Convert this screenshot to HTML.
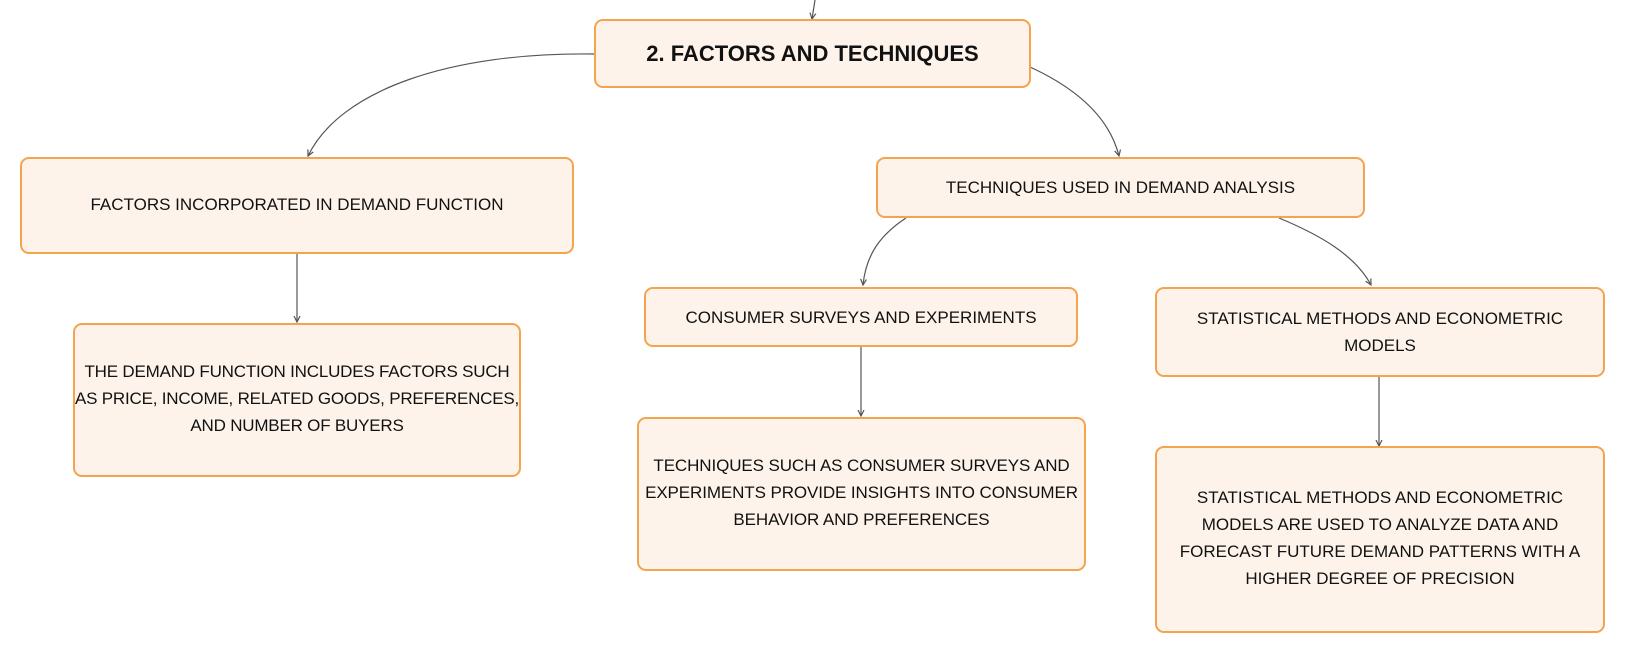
<!DOCTYPE html>
<html><head><style>
body{margin:0;width:1625px;height:652px;background:#fff;position:relative;overflow:hidden;font-family:"Liberation Sans",sans-serif;}
.b{position:absolute;box-sizing:border-box;background:#fdf3ea;border:2.5px solid #f4a44e;border-radius:9px;display:flex;align-items:center;justify-content:center;text-align:center;color:#111;font-size:17px;line-height:27px;white-space:nowrap;}
svg{position:absolute;left:0;top:0}
</style></head><body>
<svg width="1625" height="652">
<defs><marker id="a" markerWidth="6" markerHeight="6" refX="5" refY="3" orient="auto"><path d="M0,0.5 L5,3 L0,5.5" fill="none" stroke="#555" stroke-width="1"/></marker></defs>
<g fill="none" stroke="#555" stroke-width="1.2">
<path d="M815,0 L812,19" marker-end="url(#a)"/>
<path d="M594,54 C450,52 340,90 308,156" marker-end="url(#a)"/>
<path d="M1030,67 C1080,90 1110,120 1119,156" marker-end="url(#a)"/>
<path d="M906,218 C880,235 866,255 863,285" marker-end="url(#a)"/>
<path d="M1279,218 C1320,235 1355,255 1371,285" marker-end="url(#a)"/>
<path d="M297,253 L297,322" marker-end="url(#a)"/>
<path d="M861,347 L861,416" marker-end="url(#a)"/>
<path d="M1379,377 L1379,446" marker-end="url(#a)"/>
</g></svg>
<div class="b" style="left:594px;top:19px;width:437px;height:69px;font-weight:bold;font-size:22px;">2. FACTORS AND TECHNIQUES</div>
<div class="b" style="left:20px;top:157px;width:554px;height:97px;padding-bottom:2px;">FACTORS INCORPORATED IN DEMAND FUNCTION</div>
<div class="b" style="left:876px;top:157px;width:489px;height:61px;">TECHNIQUES USED IN DEMAND ANALYSIS</div>
<div class="b" style="left:73px;top:323px;width:448px;height:154px;padding-bottom:4px;letter-spacing:-0.2px;">THE DEMAND FUNCTION INCLUDES FACTORS SUCH<br>AS PRICE, INCOME, RELATED GOODS, PREFERENCES,<br>AND NUMBER OF BUYERS</div>
<div class="b" style="left:644px;top:287px;width:434px;height:60px;">CONSUMER SURVEYS AND EXPERIMENTS</div>
<div class="b" style="left:1155px;top:287px;width:450px;height:90px;">STATISTICAL METHODS AND ECONOMETRIC<br>MODELS</div>
<div class="b" style="left:637px;top:417px;width:449px;height:154px;padding-bottom:4px;letter-spacing:-0.1px;">TECHNIQUES SUCH AS CONSUMER SURVEYS AND<br>EXPERIMENTS PROVIDE INSIGHTS INTO CONSUMER<br>BEHAVIOR AND PREFERENCES</div>
<div class="b" style="left:1155px;top:446px;width:450px;height:187px;padding-bottom:4px;">STATISTICAL METHODS AND ECONOMETRIC<br>MODELS ARE USED TO ANALYZE DATA AND<br>FORECAST FUTURE DEMAND PATTERNS WITH A<br>HIGHER DEGREE OF PRECISION</div>
</body></html>
